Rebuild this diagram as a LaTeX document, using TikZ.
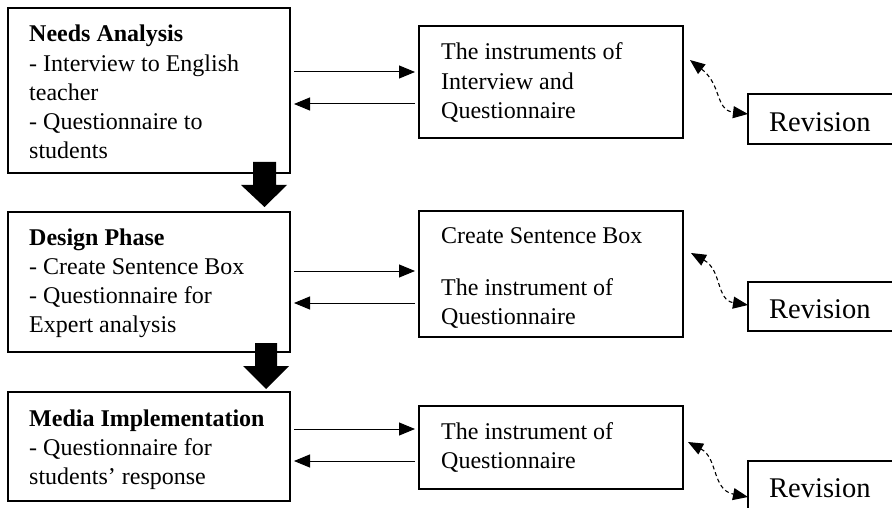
\documentclass[tikz,border=0pt]{standalone}
\usepackage{fontspec}
\setmainfont{Liberation Serif}
\usetikzlibrary{arrows.meta}
\begin{document}
\begin{tikzpicture}[x=1pt,y=-1pt,
  phasebox/.style={draw, line width=2pt, anchor=north west, inner sep=0pt, outer sep=0pt},
  revbox/.style={draw, line width=1.1pt, anchor=north west, inner sep=0pt, outer sep=0pt, minimum width=170pt},
  txt/.style={anchor=base west, inner sep=0pt, font=\fontsize{24}{29.2}\selectfont},
  revtxt/.style={anchor=base west, inner sep=0pt, font=\fontsize{28.5}{34}\selectfont},
  arr/.style={line width=1pt, -{Triangle[length=16pt,width=13pt]}, shorten <=4pt, shorten >=4pt},
  dasharr/.style={line width=1.1pt, dash pattern=on 4pt off 3pt,
    {Triangle[length=15pt,width=12pt]}-{Triangle[length=15pt,width=12pt]}},
  fatarr/.style={fill=black}
]
\useasboundingbox (0,0) rectangle (892,508);
\clip (0,0) rectangle (892,508);

% left phase boxes
\node[phasebox, minimum width=282pt, minimum height=165pt] (na) at (8,8) {};
\node[phasebox, minimum width=282pt, minimum height=140pt] (dp) at (8,212) {};
\node[phasebox, minimum width=282pt, minimum height=109pt] (mi) at (8,392) {};

\node[txt] (natxt) at (29,42) {\begin{tabular}[t]{@{}l@{}}\textbf{Needs Analysis}\\- Interview to English\\teacher\\- Questionnaire to\\students\end{tabular}};
\node[txt] (dptxt) at (29,245) {\begin{tabular}[t]{@{}l@{}}\textbf{Design Phase}\\- Create Sentence Box\\- Questionnaire for\\Expert analysis\end{tabular}};
\node[txt] (mitxt) at (29,426) {\begin{tabular}[t]{@{}l@{}}\textbf{Media Implementation}\\- Questionnaire for\\students’ response\end{tabular}};

% middle instrument boxes
\node[phasebox, minimum width=264pt, minimum height=112pt] (r1) at (419,26) {};
\node[phasebox, minimum width=264pt, minimum height=126pt] (r2) at (419,211) {};
\node[phasebox, minimum width=264pt, minimum height=83pt] (r3) at (419,406) {};

\node[txt] (r1txt) at (441,60) {\begin{tabular}[t]{@{}l@{}}The instruments of\\Interview and\\Questionnaire\end{tabular}};
\node[txt] (r2txt) at (441,243) {\begin{tabular}[t]{@{}l@{}}Create Sentence Box\\[23pt]The instrument of\\Questionnaire\end{tabular}};
\node[txt] (r3txt) at (441,439) {\begin{tabular}[t]{@{}l@{}}The instrument of\\Questionnaire\end{tabular}};

% revision boxes
\node[revbox, minimum height=50pt] (rev1) at (748,94) {};
\node[revbox, minimum height=49pt] (rev2) at (748,282) {};
\node[revbox, minimum height=50pt] (rev3) at (748,461) {};
\node[revtxt] (rev1txt) at (769,132) {Revision};
\node[revtxt] (rev2txt) at (769,318) {Revision};
\node[revtxt] (rev3txt) at (769,497) {Revision};

% thin arrows
\draw[arr] (na.east |- 0,72) -- (r1.west |- 0,72);
\draw[arr] (r1.west |- 0,104) -- (na.east |- 0,104);
\draw[arr] (dp.east |- 0,271) -- (r2.west |- 0,271);
\draw[arr] (r2.west |- 0,303) -- (dp.east |- 0,303);
\draw[arr] (mi.east |- 0,429) -- (r3.west |- 0,429);
\draw[arr] (r3.west |- 0,461) -- (mi.east |- 0,461);

% dashed revision arrows
\draw[dasharr] ([shift={(7,34)}]r1.north east) .. controls (722,85) and (715,110) .. (rev1.west |- 0,114);
\draw[dasharr] ([shift={(8,42)}]r2.north east) .. controls (722,270) and (716,300) .. (rev2.west |- 0,305);
\draw[dasharr] ([shift={(5,36)}]r3.north east) .. controls (718,458) and (712,490) .. (rev3.west |- 0,497);

% fat down arrows
\fill[fatarr] (253,162) -- (276,162) -- (276,185) -- (287,185) -- (264.5,207) -- (241,185) -- (253,185) -- cycle;
\fill[fatarr] (255,343) -- (277,343) -- (277,366) -- (289,366) -- (266,389) -- (243,366) -- (255,366) -- cycle;
\end{tikzpicture}
\end{document}
